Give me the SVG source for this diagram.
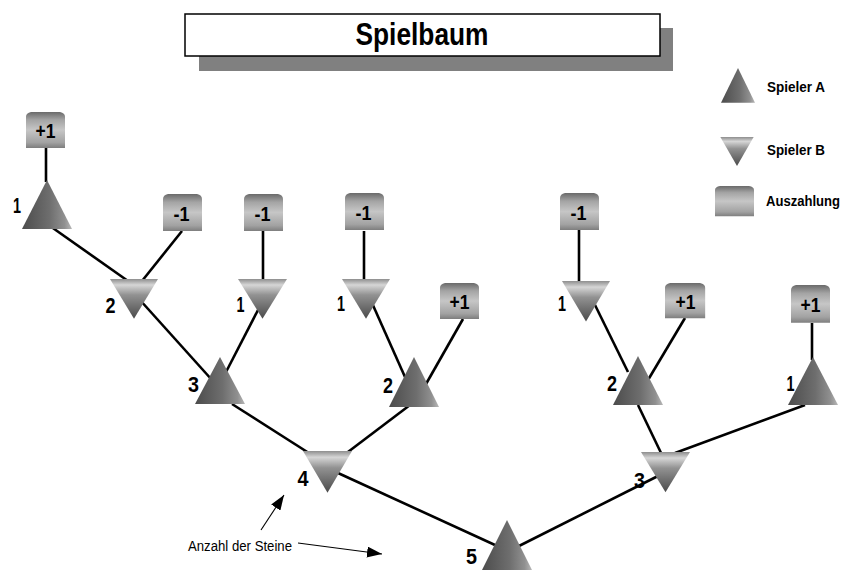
<svg xmlns="http://www.w3.org/2000/svg" width="845" height="570" viewBox="0 0 845 570">
<style>
.edge{stroke:#000;stroke-width:2.6;fill:none}
.ann{stroke:#000;stroke-width:1.1;fill:none}
.lbl{font-family:"Liberation Sans",Arial,sans-serif;font-weight:bold;font-size:22px;fill:#000;text-anchor:middle}
.val{font-family:"Liberation Sans",Arial,sans-serif;font-weight:bold;font-size:20px;fill:#000;text-anchor:middle}
.leg{font-family:"Liberation Sans",Arial,sans-serif;font-weight:bold;font-size:14px;fill:#000}
.up{fill:url(#gUp)}
.dn{fill:url(#gDn)}
.bx{fill:url(#gBx)}
</style>
<defs>
<linearGradient id="gUp" x1="0" y1="0" x2="1" y2="0">
<stop offset="0" stop-color="#4c4c4c"/>
<stop offset="0.55" stop-color="#6e6e6e"/>
<stop offset="0.85" stop-color="#909090"/>
<stop offset="1" stop-color="#b8b8b8"/>
</linearGradient>
<linearGradient id="gDn" x1="0" y1="0" x2="0" y2="1">
<stop offset="0" stop-color="#8e8e8e"/>
<stop offset="0.15" stop-color="#d6d6d6"/>
<stop offset="0.4" stop-color="#929292"/>
<stop offset="1" stop-color="#4a4a4a"/>
</linearGradient>
<linearGradient id="gBx" x1="0" y1="0" x2="0" y2="1">
<stop offset="0" stop-color="#6a6a6a"/>
<stop offset="0.22" stop-color="#a4a4a4"/>
<stop offset="0.5" stop-color="#c6c6c6"/>
<stop offset="0.85" stop-color="#a2a2a2"/>
<stop offset="1" stop-color="#7e7e7e"/>
</linearGradient>
<polygon id="tUp" points="0,0 25,49 -25,49"/>
<polygon id="tDn" points="-24.5,0 24.5,0 0,41"/>
<path id="box" d="M0,37 V5 Q0,1 5,0 H34 Q39,1 39,5 V37 Z"/>
<marker id="ah" markerUnits="userSpaceOnUse" markerWidth="15" markerHeight="11" refX="15" refY="5.5" orient="auto">
<path d="M0,0 L15,5.5 L0,11 Z" fill="#000"/>
</marker>
</defs>

<g id="title">
<rect x="199" y="28" width="474" height="43" fill="#808080"/>
<rect x="185" y="14" width="475" height="42" fill="#fff" stroke="#000" stroke-width="1.5"/>
<text x="422" y="45" font-family="'Liberation Sans',Arial,sans-serif" font-weight="bold" font-size="32" text-anchor="middle" textLength="133" lengthAdjust="spacingAndGlyphs">Spielbaum</text>
</g>

<g id="legend">
<use href="#tUp" class="up" transform="translate(738,68) scale(0.68,0.71)"/>
<text class="leg" x="767" y="92" textLength="58" lengthAdjust="spacingAndGlyphs">Spieler A</text>
<use href="#tDn" class="dn" transform="translate(737,137) scale(0.68,0.71)"/>
<text class="leg" x="767" y="155" textLength="58" lengthAdjust="spacingAndGlyphs">Spieler B</text>
<use href="#box" class="bx" transform="translate(715,186) scale(1,0.82)"/>
<text class="leg" x="766" y="206" textLength="74" lengthAdjust="spacingAndGlyphs">Auszahlung</text>
</g>

<g id="connectors">
<line class="edge" x1="46" y1="148" x2="46" y2="182"/>
<line class="edge" x1="50" y1="226" x2="128" y2="281"/>
<line class="edge" x1="182" y1="231" x2="142" y2="281"/>
<line class="edge" x1="263" y1="231" x2="263" y2="282"/>
<line class="edge" x1="140" y1="300" x2="212" y2="380"/>
<line class="edge" x1="258" y1="310" x2="226" y2="372"/>
<line class="edge" x1="364" y1="231" x2="364" y2="282"/>
<line class="edge" x1="463" y1="319" x2="426" y2="384"/>
<line class="edge" x1="372" y1="303" x2="405" y2="377"/>
<line class="edge" x1="232" y1="404" x2="312" y2="455"/>
<line class="edge" x1="410" y1="405" x2="340" y2="458"/>
<line class="edge" x1="338" y1="473" x2="495" y2="545"/>
<line class="edge" x1="579" y1="230" x2="579" y2="283"/>
<line class="edge" x1="685" y1="318" x2="648" y2="380"/>
<line class="edge" x1="595" y1="305" x2="628" y2="372"/>
<line class="edge" x1="812" y1="323" x2="812" y2="360"/>
<line class="edge" x1="638" y1="405" x2="662" y2="455"/>
<line class="edge" x1="805" y1="405" x2="675" y2="453"/>
<line class="edge" x1="658" y1="476" x2="515" y2="548"/>
<line class="ann" x1="261" y1="530" x2="284" y2="495" marker-end="url(#ah)"/>
<line class="ann" x1="298" y1="543" x2="382" y2="554" marker-end="url(#ah)"/>
</g>

<g id="pay1"><use href="#box" class="bx" transform="translate(26,112) scale(1,0.97)"/><text class="val" x="45.5" y="138" textLength="20" lengthAdjust="spacingAndGlyphs">+1</text></g>
<g id="pay2"><use href="#box" class="bx" transform="translate(163,194)"/><text class="val" x="181.5" y="221" textLength="16" lengthAdjust="spacingAndGlyphs">-1</text></g>
<g id="pay3"><use href="#box" class="bx" transform="translate(244,194)"/><text class="val" x="262.5" y="221" textLength="16" lengthAdjust="spacingAndGlyphs">-1</text></g>
<g id="pay4"><use href="#box" class="bx" transform="translate(345,193)"/><text class="val" x="363.5" y="220" textLength="16" lengthAdjust="spacingAndGlyphs">-1</text></g>
<g id="pay5"><use href="#box" class="bx" transform="translate(440,283) scale(1,0.97)"/><text class="val" x="459.5" y="309" textLength="20" lengthAdjust="spacingAndGlyphs">+1</text></g>
<g id="pay6"><use href="#box" class="bx" transform="translate(560,193)"/><text class="val" x="578.5" y="220" textLength="16" lengthAdjust="spacingAndGlyphs">-1</text></g>
<g id="pay7"><use href="#box" class="bx" transform="translate(665,283) scale(1.03,0.95)"/><text class="val" x="685.5" y="309" textLength="20" lengthAdjust="spacingAndGlyphs">+1</text></g>
<g id="pay8"><use href="#box" class="bx" transform="translate(791,285) scale(1,1.02)"/><text class="val" x="810.5" y="312" textLength="20" lengthAdjust="spacingAndGlyphs">+1</text></g>

<g id="a1"><use href="#tUp" class="up" transform="translate(47,180)"/><text class="lbl" x="17" y="213" textLength="8" lengthAdjust="spacingAndGlyphs">1</text></g>
<g id="b2"><use href="#tDn" class="dn" transform="translate(134,279) scale(0.98,0.97)"/><text class="lbl" x="110.5" y="313" textLength="10" lengthAdjust="spacingAndGlyphs">2</text></g>
<g id="b1a"><use href="#tDn" class="dn" transform="translate(262.5,279) scale(1,0.97)"/><text class="lbl" x="240.5" y="312" textLength="8" lengthAdjust="spacingAndGlyphs">1</text></g>
<g id="b1b"><use href="#tDn" class="dn" transform="translate(366,279) scale(0.98,0.97)"/><text class="lbl" x="341" y="311" textLength="8" lengthAdjust="spacingAndGlyphs">1</text></g>
<g id="b1c"><use href="#tDn" class="dn" transform="translate(586,281) scale(0.98,0.99)"/><text class="lbl" x="562" y="311" textLength="8" lengthAdjust="spacingAndGlyphs">1</text></g>
<g id="a3"><use href="#tUp" class="up" transform="translate(220,357) scale(1,0.96)"/><text class="lbl" x="193.5" y="392" textLength="11" lengthAdjust="spacingAndGlyphs">3</text></g>
<g id="a2a"><use href="#tUp" class="up" transform="translate(414,357) scale(1,1.02)"/><text class="lbl" x="388" y="393" textLength="10" lengthAdjust="spacingAndGlyphs">2</text></g>
<g id="a2b"><use href="#tUp" class="up" transform="translate(638,356)"/><text class="lbl" x="612" y="391" textLength="10" lengthAdjust="spacingAndGlyphs">2</text></g>
<g id="a1b"><use href="#tUp" class="up" transform="translate(813,357) scale(1,0.98)"/><text class="lbl" x="790.5" y="391" textLength="8" lengthAdjust="spacingAndGlyphs">1</text></g>
<g id="b4"><use href="#tDn" class="dn" transform="translate(327.5,451) scale(1,1.02)"/><text class="lbl" x="303" y="486" textLength="11" lengthAdjust="spacingAndGlyphs">4</text></g>
<g id="b3"><use href="#tDn" class="dn" transform="translate(665.5,452) scale(1,0.98)"/><text class="lbl" x="639.5" y="488" textLength="11" lengthAdjust="spacingAndGlyphs">3</text></g>
<g id="a5"><use href="#tUp" class="up" transform="translate(507,520) scale(1,1.02)"/><text class="lbl" x="471.5" y="564" textLength="11" lengthAdjust="spacingAndGlyphs">5</text></g>

<g id="annotation">
<text x="188" y="551" font-family="'Liberation Sans',Arial,sans-serif" font-size="14" textLength="104" lengthAdjust="spacingAndGlyphs">Anzahl der Steine</text>
</g>
</svg>
